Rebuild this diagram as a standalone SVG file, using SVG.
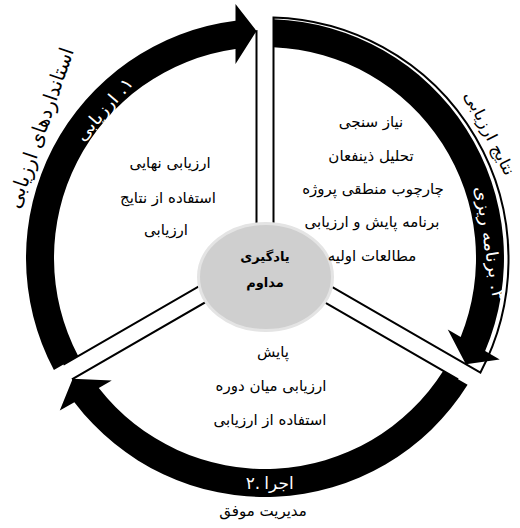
<svg xmlns="http://www.w3.org/2000/svg" width="520" height="528" viewBox="0 0 520 528">
  <style>
    .wedge { fill: #ffffff; stroke: #000000; stroke-width: 2; stroke-linejoin: miter; }
    .band { fill: #000000; stroke: none; }
    .t { font-family: "DejaVu Sans", sans-serif; font-size: 15px; fill: #000000; text-anchor: middle; }
    .w { font-family: "DejaVu Sans", sans-serif; font-size: 17px; fill: #ffffff; text-anchor: middle; }
    .o { font-family: "DejaVu Sans", sans-serif; font-size: 17px; fill: #000000; text-anchor: middle; }
    .c { font-family: "DejaVu Sans", sans-serif; font-size: 13px; font-weight: bold; fill: #000000; text-anchor: middle; }
    .rtl { direction: rtl; }
  </style>
  <rect width="520" height="528" fill="#ffffff"/>

  <g id="sector-evaluation">
    <path class="wedge" d="M 256.5 253.09 L 64.3 364.06 A 227 227 0 0 1 256.5 31.16 Z"/>
  </g>
  <g id="sector-planning">
    <path class="wedge" d="M 273.5 253.09 L 273.5 17.5 A 242 242 0 0 1 480.43 372.56 Z"/>
  </g>
  <g id="sector-implementation">
    <path class="wedge" d="M 265 267.82 L 457.2 378.78 A 227 227 0 0 1 72.8 378.78 Z"/>
  </g>

  <g id="connectors">
    <path class="band" d="M 53.9 370.06 A 239 239 0 0 1 235.5 20.83 L 235.5 4 L 256.5 31 L 235.5 64 L 235.5 49.07 A 211 211 0 0 0 78.17 356.05 Z"/>
    <path class="band" d="M 273.5 19.15 A 239 239 0 0 1 485.14 351.04 L 499.72 359.45 L 465.83 364.14 L 447.75 329.45 L 460.69 336.92 A 211 211 0 0 0 273.5 47.17 Z"/>
    <path class="band" d="M 467.6 384.79 A 239 239 0 0 1 74.36 402.13 L 59.78 410.55 L 72.67 378.86 L 111.75 380.55 L 98.81 388.01 A 211 211 0 0 0 443.33 370.78 Z"/>
  </g>

  <g id="center">
    <ellipse cx="265.5" cy="277" rx="67" ry="53.5" fill="#cfcfcf" stroke="#e4e4e4" stroke-width="3"/>
    <text class="c" x="265" y="261">یادگیری</text>
    <text class="c" x="265" y="287">مداوم</text>
  </g>

  <g id="evaluation-items">
    <text class="t" x="170" y="168">ارزیابی نهایی</text>
    <text class="t" x="168" y="203">استفاده از نتایج</text>
    <text class="t" x="166" y="235">ارزیابی</text>
  </g>

  <g id="planning-items">
    <text class="t" x="371" y="127">نیاز سنجی</text>
    <text class="t" x="371" y="161">تحلیل ذینفعان</text>
    <text class="t" x="373" y="194">چارچوب منطقی پروژه</text>
    <text class="t" x="372" y="227">برنامه پایش و ارزیابی</text>
    <text class="t" x="372" y="261">مطالعات اولیه</text>
  </g>

  <g id="implementation-items">
    <text class="t" x="273" y="357">پایش</text>
    <text class="t" x="271" y="391">ارزیابی میان دوره</text>
    <text class="t" x="270" y="425">استفاده از ارزیابی</text>
  </g>

  <g id="labels">
    <text class="w rtl" transform="translate(104,109) rotate(-49)" x="0" y="6" textLength="78" lengthAdjust="spacingAndGlyphs">۱. ارزیابی</text>
    <text class="o rtl" transform="translate(41,128) rotate(-71)" x="0" y="6" style="font-size:20px" textLength="168" lengthAdjust="spacingAndGlyphs">استانداردهای ارزیابی</text>
    <text class="o rtl" transform="translate(490,133) rotate(63)" x="0" y="6" style="font-size:16px" textLength="92" lengthAdjust="spacingAndGlyphs">نتایج ارزیابی</text>
    <text class="w rtl" transform="translate(490,243) rotate(81)" x="0" y="6" textLength="115" lengthAdjust="spacingAndGlyphs">۳. برنامه ریزی</text>
    <text class="w" x="253" y="489">۲.</text>
    <text class="w" x="279" y="489">اجرا</text>
    <text class="o" x="263" y="516" style="font-size:15px">مدیریت موفق</text>
  </g>
</svg>
